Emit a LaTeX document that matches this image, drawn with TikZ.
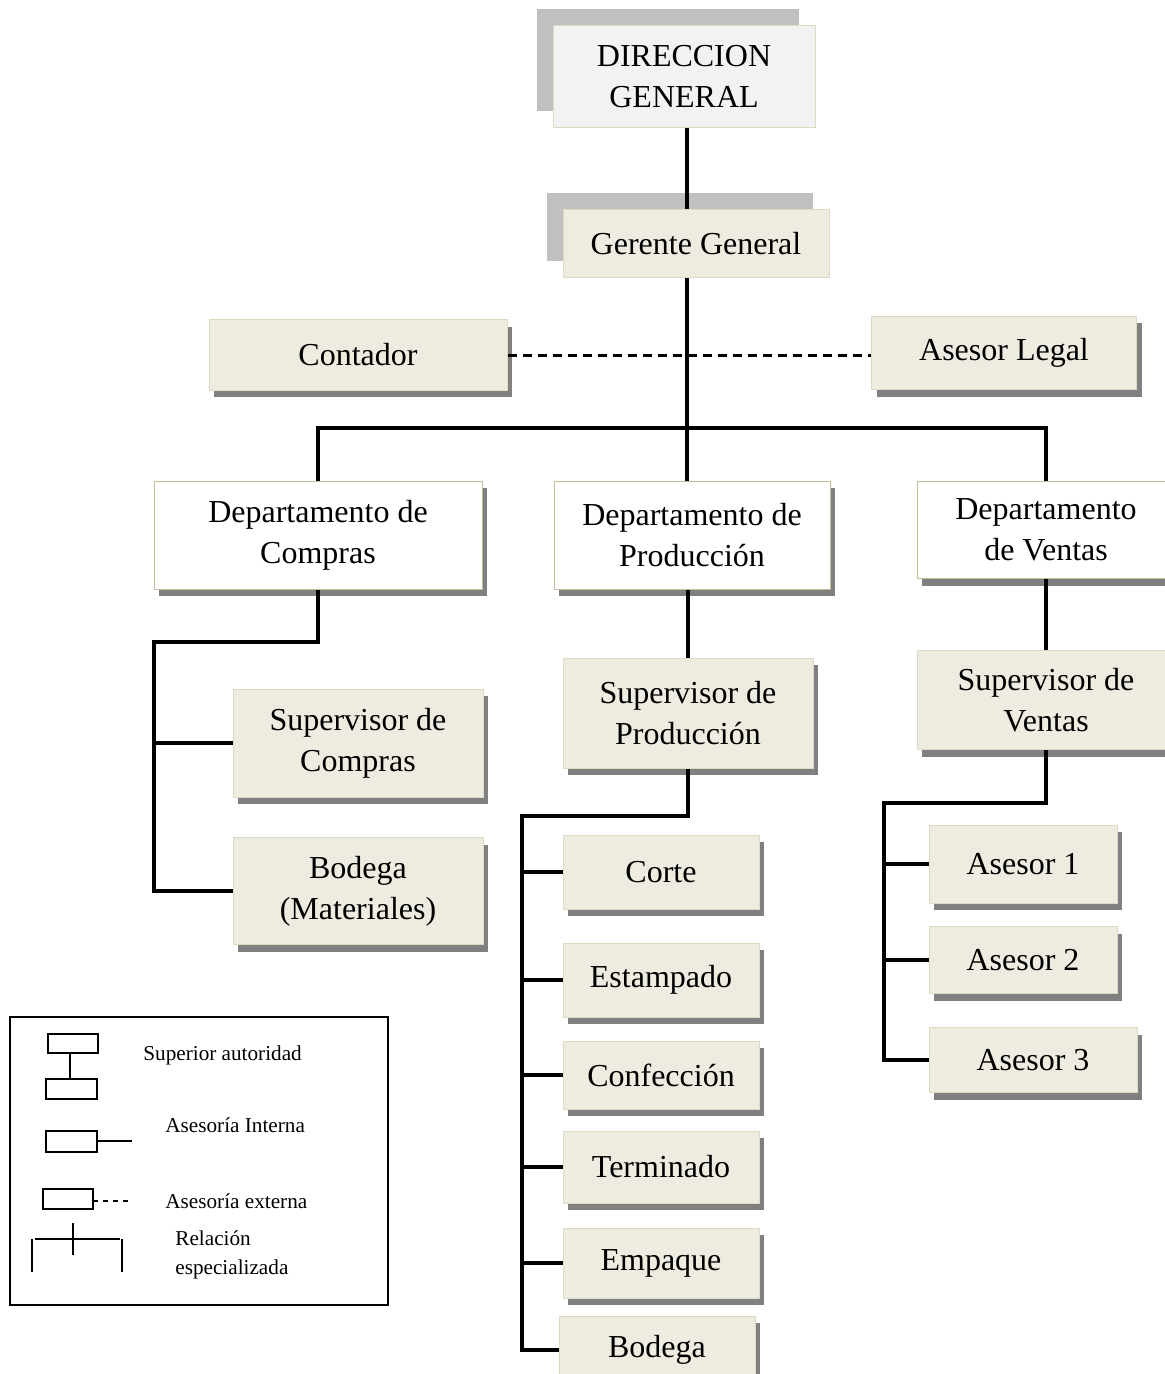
\documentclass[tikz,border=0pt]{standalone}
\usepackage{fontspec}
\setmainfont{Liberation Serif}
\usetikzlibrary{shadows}
\definecolor{topfill}{HTML}{F2F2F2}
\definecolor{unitfill}{HTML}{EEECE1}
\definecolor{unitline}{HTML}{DDD9C3}
\definecolor{deptline}{HTML}{C4BD97}
\definecolor{darkshade}{HTML}{808080}
\definecolor{liteshade}{HTML}{C0C0C0}
\begin{document}
\begin{tikzpicture}[x=0.5pt,y=-0.5pt,
  sz/.style 2 args={minimum width=#1*0.5pt,minimum height=#2*0.5pt},
  box/.style={draw=unitline,line width=0.5pt,inner sep=0pt,align=center,
    font=\fontsize{16}{20.5}\selectfont},
  topbox/.style={box,drop shadow={shadow xshift=-8pt,shadow yshift=8.5pt,
    fill=liteshade,opacity=1}},
  unit/.style={box,fill=unitfill,drop shadow={shadow xshift=2.5pt,
    shadow yshift=-3.5pt,fill=darkshade,opacity=1}},
  dept/.style={unit,fill=white,draw=deptline},
  conn/.style={line width=2pt},
  legline/.style={line width=0.75pt},
  legtext/.style={anchor=west,inner sep=0pt,align=left,
    font=\fontsize{10.6}{14.5}\selectfont}]
\useasboundingbox (0,0) rectangle (1164,1374);
% direccion y gerencia
\node[topbox,fill=topfill,sz={262}{102}](dir) at (684,77) {DIRECCION\\GENERAL};
\node[topbox,fill=unitfill,sz={266}{68}](ger) at (696,244) {Gerente General};
\node[unit,sz={298}{70}](cont) at (358,355) {Contador};
\node[unit,sz={265}{73}](leg) at (1004,353) {Asesor Legal};
% departamentos
\node[dept,sz={328}{108}](dcom) at (318,535) {Departamento de\\Compras};
\node[dept,sz={276}{108}](dpro) at (692,535) {Departamento de\\Producción};
\node[dept,sz={258}{97}](dven) at (1046,530) {Departamento\\de Ventas};
% compras
\node[unit,sz={250}{108}](scom) at (358,743) {Supervisor de\\Compras};
\node[unit,sz={250}{107}](bmat) at (358,891) {Bodega\\(Materiales)};
% produccion
\node[unit,sz={250}{110}](spro) at (688,713) {Supervisor de\\Producción};
\node[unit,sz={196}{74}](p1) at (661,872) {Corte};
\node[unit,sz={196}{74}](p2) at (661,980) {Estampado};
\node[unit,sz={196}{68}](p3) at (661,1075) {Confección};
\node[unit,sz={196}{72}](p4) at (661,1167) {Terminado};
\node[unit,sz={196}{70}](p5) at (661,1263) {Empaque};
\node[unit,sz={196}{68}](p6) at (657,1350) {Bodega};
% ventas
\node[unit,sz={258}{99}](sven) at (1046,700) {Supervisor de\\Ventas};
\node[unit,sz={188}{78}](v1) at (1023,864) {Asesor 1};
\node[unit,sz={188}{67}](v2) at (1023,960) {Asesor 2};
\node[unit,sz={208}{65}](v3) at (1033,1060) {Asesor 3};
% lineas
\coordinate (trunk) at (687,0);
\coordinate (cb) at (154,642);
\coordinate (pb) at (522,816);
\coordinate (vb) at (884,803);
\draw[conn] (trunk |- dir.south) -- (trunk |- ger.north);
\draw[conn] (trunk |- ger.south) -- (trunk |- dpro.north);
\draw[line width=1.5pt,dash pattern=on 4.7pt off 2.8pt] (cont.east) -- (cont.east -| leg.west);
\draw[conn] (dcom.north) -- ++(0,-53) -| (dven.north);
\draw[conn] (dcom.south) |- (cb) |- (bmat.west);
\draw[conn] (scom.west) -- (scom.west -| cb);
\draw[conn] (dpro.south -| spro.north) -- (spro.north);
\draw[conn] (spro.south) |- (pb) |- (p6.west);
\foreach \n in {p1,p2,p3,p4,p5}
  \draw[conn] (\n.west) -- (\n.west -| pb);
\draw[conn] (dven.south) -- (dven.south |- sven.north);
\draw[conn] (sven.south) |- (vb) |- (v3.west);
\foreach \n in {v1,v2}
  \draw[conn] (\n.west) -- (\n.west -| vb);
% leyenda
\draw[legline] (10,1017) rectangle (388,1305);
\draw[legline] (48,1034) rectangle (98,1053);
\draw[legline] (70,1053) -- (70,1079);
\draw[legline] (46,1079) rectangle (97,1099);
\draw[legline] (46,1131) rectangle (97,1152);
\draw[legline] (97,1141) -- (132,1141);
\draw[legline] (43,1189) rectangle (93,1209);
\draw[legline,dash pattern=on 2.5pt off 2.5pt] (93,1201) -- (130,1201);
\draw[legline] (35,1239) -- (120,1239);
\draw[legline] (73,1223) -- (73,1255);
\draw[legline] (32,1239) -- (32,1272);
\draw[legline] (122,1239) -- (122,1272);
\node[legtext](t1) at (143,1055) {Superior autoridad};
\node[legtext](t2) at (165,1125) {Asesoría Interna};
\node[legtext](t3) at (165,1201) {Asesoría externa};
\node[legtext](t4) at (175,1255) {Relación\\especializada};
\end{tikzpicture}
\end{document}
